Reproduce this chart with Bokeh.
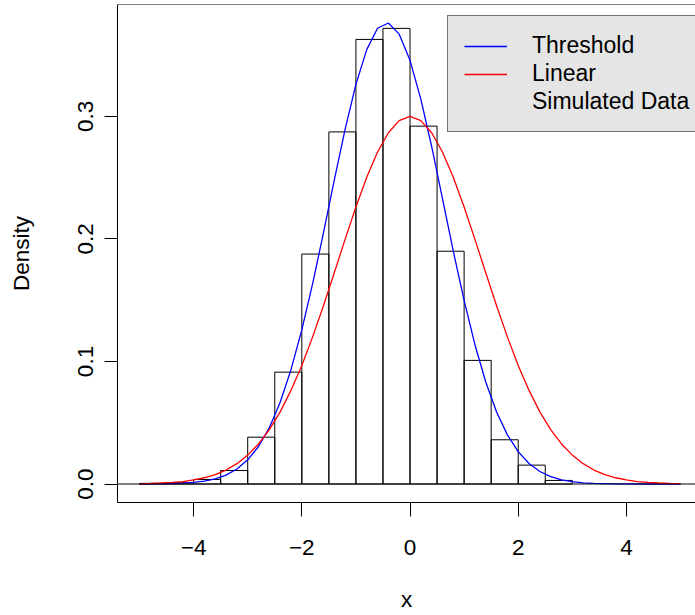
from bokeh.plotting import figure
from bokeh.models import Range1d, FixedTicker, Span, Legend, LegendItem
from bokeh.embed import file_html
from bokeh.resources import INLINE

# ---- data ----
bin_edges = [-5.0, -4.5, -4.0, -3.5, -3.0, -2.5, -2.0, -1.5, -1.0, -0.5,
             0.0, 0.5, 1.0, 1.5, 2.0, 2.5, 3.0]
bin_density = [0.0005, 0.0010, 0.0037, 0.0110, 0.0382, 0.0913, 0.1877, 0.2874,
               0.3629, 0.3719, 0.2921, 0.1900, 0.1009, 0.0361, 0.0154, 0.0029]

curve_x = [-5.0, -4.8, -4.6, -4.4, -4.2, -4.0, -3.8, -3.6, -3.4, -3.2,
           -3.0, -2.8, -2.6, -2.4, -2.2, -2.0, -1.8, -1.6, -1.4, -1.2,
           -1.0, -0.8, -0.6, -0.4, -0.2, 0.0, 0.2, 0.4, 0.6, 0.8,
           1.0, 1.2, 1.4, 1.6, 1.8, 2.0, 2.2, 2.4, 2.6, 2.8,
           3.0, 3.2, 3.4, 3.6, 3.8, 4.0, 4.2, 4.4, 4.6, 4.8, 5.0]

threshold_density = [0.0000, 0.0001, 0.0002, 0.0003, 0.0007, 0.0013, 0.0023, 0.0042, 0.0073, 0.0122,
                     0.0197, 0.0306, 0.0460, 0.0667, 0.0933, 0.1258, 0.1635, 0.2050, 0.2480, 0.2895,
                     0.3262, 0.3546, 0.3720, 0.3763, 0.3672, 0.3458, 0.3141, 0.2755, 0.2330, 0.1900,
                     0.1499, 0.1137, 0.0833, 0.0588, 0.0401, 0.0264, 0.0167, 0.0102, 0.0060, 0.0034,
                     0.0019, 0.0010, 0.0005, 0.0003, 0.0001, 0.0001, 0.0000, 0.0000, 0.0000, 0.0000, 0.0000]

linear_density = [0.0003, 0.0004, 0.0008, 0.0013, 0.0020, 0.0033, 0.0051, 0.0077, 0.0114, 0.0166,
                  0.0236, 0.0327, 0.0444, 0.0589, 0.0764, 0.0968, 0.1201, 0.1455, 0.1724, 0.1997,
                  0.2261, 0.2504, 0.2710, 0.2867, 0.2966, 0.3000, 0.2966, 0.2867, 0.2710, 0.2504,
                  0.2261, 0.1997, 0.1724, 0.1455, 0.1201, 0.0968, 0.0764, 0.0589, 0.0444, 0.0327,
                  0.0236, 0.0166, 0.0114, 0.0077, 0.0051, 0.0033, 0.0020, 0.0013, 0.0008, 0.0004, 0.0003]

series_labels = ["Threshold", "Linear", "Simulated Data"]
x_ticks = [-4, -2, 0, 2, 4]
x_tick_labels = ["\u22124", "\u22122", "0", "2", "4"]
y_ticks = [0, 0.1, 0.2, 0.3]
y_tick_labels = ["0.0", "0.1", "0.2", "0.3"]

# ---- styling ----
FONT = "Liberation Sans"
FS = "22.5px"

p = figure(width=695, height=615, output_backend="svg", toolbar_location=None,
           x_range=Range1d(-5.407, 5.277), y_range=Range1d(-0.0151, 0.3914),
           min_border_left=117, min_border_right=0, min_border_top=4,
           min_border_bottom=113)
p.outline_line_color = None
p.grid.visible = False
p.background_fill_color = "white"
p.border_fill_color = "white"

for ax in (p.xaxis[0], p.yaxis[0]):
    ax.axis_line_color = "black"
    ax.axis_line_width = 1
    ax.major_tick_line_color = "black"
    ax.minor_tick_line_color = None
    ax.major_tick_out = 14
    ax.major_tick_in = 0
    ax.major_label_text_font = FONT
    ax.major_label_text_font_size = FS
    ax.major_label_text_color = "black"
    ax.axis_label_text_font = FONT
    ax.axis_label_text_font_size = FS
    ax.axis_label_text_font_style = "normal"
    ax.axis_label_text_color = "black"

p.xaxis.ticker = FixedTicker(ticks=x_ticks)
p.xaxis.major_label_overrides = dict(zip(x_ticks, x_tick_labels))
p.xaxis.major_label_standoff = 23
p.xaxis.axis_label = "x"
p.xaxis.axis_label_standoff = 29

p.yaxis.ticker = FixedTicker(ticks=y_ticks)
p.yaxis.major_label_overrides = dict(zip(y_ticks, y_tick_labels))
p.yaxis.major_label_orientation = "vertical"
p.yaxis.major_tick_out = 13
p.yaxis.major_label_standoff = 11
p.yaxis.axis_label = "Density"
p.yaxis.axis_label_standoff = 42

# top border of the box
p.add_layout(Span(location=p.y_range.end, dimension="width", line_color="black", line_width=1))

# histogram
p.quad(left=bin_edges[:-1], right=bin_edges[1:], top=bin_density, bottom=0,
       fill_color=None, line_color="black", line_width=1)

# zero line
p.add_layout(Span(location=0, dimension="width", line_color="black", line_width=1))

r_thr = p.line(curve_x, threshold_density, line_color="#0000FF", line_width=1.3)
r_lin = p.line(curve_x, linear_density, line_color="#FF0000", line_width=1.3)
r_sim = p.line(x=[], y=[], line_color="black", line_width=1.3)

legend = Legend(items=[LegendItem(label=series_labels[0], renderers=[r_thr]),
                       LegendItem(label=series_labels[1], renderers=[r_lin]),
                       LegendItem(label=series_labels[2], renderers=[r_sim])],
                location=(330, 370), margin=0, padding=16, spacing=1,
                glyph_width=43, glyph_height=20, label_standoff=25, label_height=20,
                background_fill_color="#E5E5E5", background_fill_alpha=1,
                border_line_color="black", border_line_width=1,
                label_text_font=FONT, label_text_font_size="23px", label_text_color="black")
p.add_layout(legend, "center")

open("out.html", "w").write(file_html(p, INLINE))
